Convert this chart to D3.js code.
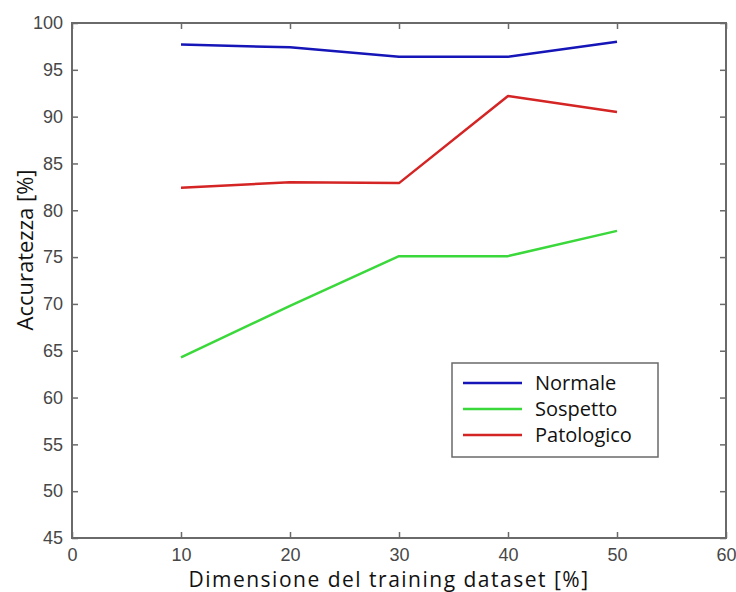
<!DOCTYPE html>
<html>
<head>
<meta charset="utf-8">
<script src="https://cdn.jsdelivr.net/npm/d3@7"></script>
<style>
  body { margin: 0; background: #fff; }
  svg { display: block; }
</style>
</head>
<body>
<div id="chart"></div>
<script>
// Data
const trainingSizes = [10, 20, 30, 40, 50];
const normale    = [97.7, 97.4, 96.4, 96.4, 98.0];
const sospetto   = [64.3, 69.8, 75.1, 75.1, 77.8];
const patologico = [82.4, 83.0, 82.9, 92.2, 90.5];
const seriesNames = ['Normale', 'Sospetto', 'Patologico'];
const xTicks = [0, 10, 20, 30, 40, 50, 60];
const yTicks = [45, 50, 55, 60, 65, 70, 75, 80, 85, 90, 95, 100];

const width = 736, height = 592;
const margin = { top: 23, right: 10, bottom: 54, left: 72 };

const svg = d3.select('#chart').append('svg')
    .attr('width', width)
    .attr('height', height);

const x = d3.scaleLinear().domain([0, 60]).range([margin.left, width - margin.right]);
const y = d3.scaleLinear().domain([45, 100]).range([height - margin.bottom, margin.top]);

const axisColor = '#6a6a6a';
const tickFont = 'Liberation Sans, Arial, sans-serif';

// plot box
svg.append('rect')
    .attr('x', x(0)).attr('y', y(100))
    .attr('width', x(60) - x(0)).attr('height', y(45) - y(100))
    .attr('fill', 'none')
    .attr('stroke', axisColor)
    .attr('stroke-width', 2);

// inward ticks, all four sides
function styleAxis(g) {
    g.select('.domain').remove();
    g.selectAll('.tick line').attr('stroke', axisColor).attr('stroke-width', 1.5);
    g.selectAll('.tick text')
        .attr('fill', '#474747')
        .attr('font-family', tickFont)
        .attr('font-size', 18);
}

svg.append('g')
    .attr('transform', `translate(0,${y(45)})`)
    .call(d3.axisBottom(x).tickValues(xTicks).tickSize(-6).tickPadding(10).tickFormat(d3.format('d')))
    .call(styleAxis);

svg.append('g')
    .attr('transform', `translate(0,${y(100)})`)
    .call(d3.axisTop(x).tickValues(xTicks).tickSize(-6).tickFormat(''))
    .call(styleAxis);

svg.append('g')
    .attr('transform', `translate(${x(0)},0)`)
    .call(d3.axisLeft(y).tickValues(yTicks).tickSize(-6).tickPadding(9).tickFormat(d3.format('d')))
    .call(styleAxis);

svg.append('g')
    .attr('transform', `translate(${x(60)},0)`)
    .call(d3.axisRight(y).tickValues(yTicks).tickSize(-6).tickFormat(''))
    .call(styleAxis);

// lines
const colors = ['#1515b8', '#3ad83a', '#d42424'];
const allSeries = [normale, sospetto, patologico];

const line = d3.line()
    .x((d, i) => x(trainingSizes[i]))
    .y(d => y(d));

allSeries.forEach((s, i) => {
    svg.append('path')
        .datum(s)
        .attr('d', line)
        .attr('fill', 'none')
        .attr('stroke', colors[i])
        .attr('stroke-width', 2.5)
        .attr('stroke-linejoin', 'round');
});

// axis labels
const labelFont = 'Open Sans, Noto Sans, sans-serif';
svg.append('text')
    .attr('x', 389)
    .attr('y', 587)
    .attr('text-anchor', 'middle')
    .attr('font-family', labelFont)
    .attr('font-size', 21)
    .attr('letter-spacing', 1.5)
    .attr('fill', '#111')
    .text('Dimensione del training dataset [%]');

svg.append('text')
    .attr('transform', 'translate(33,250) rotate(-90)')
    .attr('text-anchor', 'middle')
    .attr('font-family', labelFont)
    .attr('font-size', 22)
    .attr('fill', '#111')
    .text('Accuratezza [%]');

// legend
const legend = svg.append('g').attr('transform', 'translate(452,363)');
legend.append('rect')
    .attr('width', 206).attr('height', 94)
    .attr('fill', '#fff')
    .attr('stroke', axisColor)
    .attr('stroke-width', 1.5);

seriesNames.forEach((name, i) => {
    const ly = 20 + i * 26;
    legend.append('line')
        .attr('x1', 11).attr('x2', 70)
        .attr('y1', ly).attr('y2', ly)
        .attr('stroke', colors[i])
        .attr('stroke-width', 2.5);
    legend.append('text')
        .attr('x', 83).attr('y', ly)
        .attr('dy', '0.35em')
        .attr('font-family', labelFont)
        .attr('font-size', 20)
        .attr('fill', '#111')
        .text(name);
});
</script>
</body>
</html>
